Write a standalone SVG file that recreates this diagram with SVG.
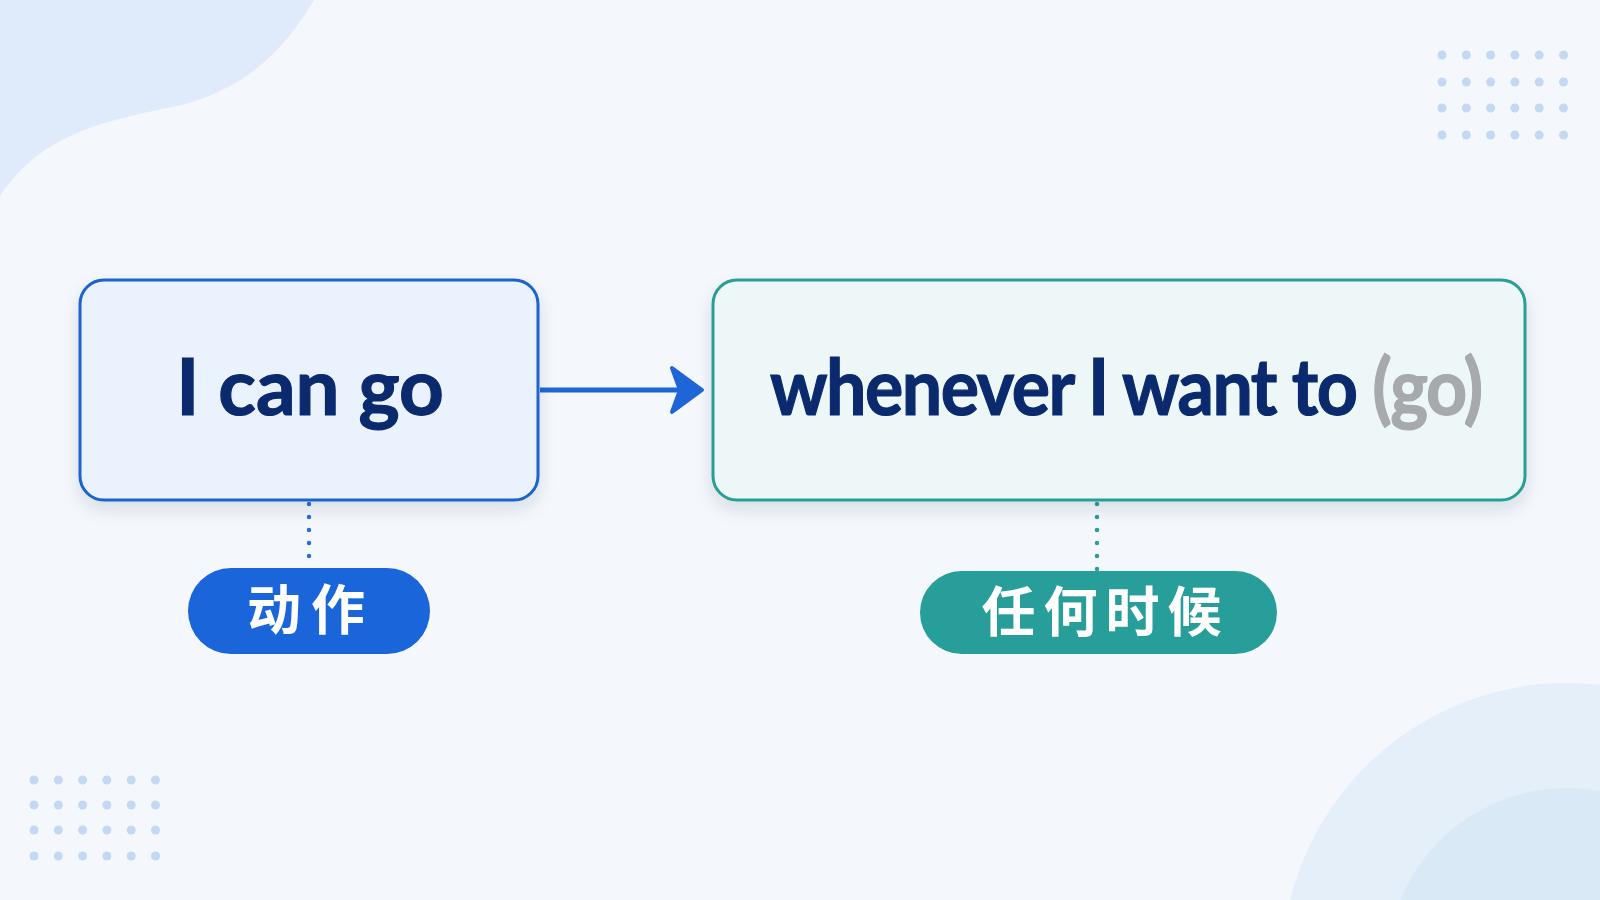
<svg xmlns="http://www.w3.org/2000/svg" width="1600" height="900" viewBox="0 0 1600 900">
<defs>
<style>
.en{font-family:Lato,"Liberation Sans",sans-serif;font-weight:700;font-size:78px;fill:#0b2a6e;stroke:#0b2a6e;stroke-width:1.2px;}
.gray{fill:#a6a9ae;stroke:#a6a9ae;}
.cn{font-family:"Noto Sans CJK SC",sans-serif;font-weight:700;font-size:54px;fill:#ffffff;}
.dot{fill:#c3d8f3;}
.tag-line{stroke-width:4.5;stroke-linecap:round;stroke-dasharray:0 13;fill:none;}
</style>
<filter id="sh" x="-10%" y="-10%" width="120%" height="135%">
<feDropShadow dx="0" dy="8" stdDeviation="8" flood-color="#1b2b4a" flood-opacity="0.13"/>
</filter>
<g id="dotgrid">
<circle class="dot" cx="0" cy="0" r="4.5"/><circle class="dot" cx="24.3" cy="0" r="4.5"/><circle class="dot" cx="48.6" cy="0" r="4.5"/><circle class="dot" cx="72.9" cy="0" r="4.5"/><circle class="dot" cx="97.2" cy="0" r="4.5"/><circle class="dot" cx="121.5" cy="0" r="4.5"/>
</g>
</defs>
<rect width="1600" height="900" fill="#f4f8fc"/>
<path d="M0,0 H314 C290,40 255,85 185,104 C115,120 45,128 0,196 Z" fill="#dfebfa"/>
<circle cx="1567" cy="968" r="285" fill="#e5eff9"/>
<circle cx="1567" cy="968" r="180" fill="#d9e9f6"/>
<g id="dots-tr">
<use href="#dotgrid" x="1442" y="55"/><use href="#dotgrid" x="1442" y="82"/><use href="#dotgrid" x="1442" y="108"/><use href="#dotgrid" x="1442" y="135"/>
</g>
<g id="dots-bl">
<use href="#dotgrid" x="34" y="780"/><use href="#dotgrid" x="34" y="805"/><use href="#dotgrid" x="34" y="830"/><use href="#dotgrid" x="34" y="856"/>
</g>
<g id="connectors">
<line x1="540" y1="390" x2="690" y2="390" stroke="#1e66d8" stroke-width="5"/>
<path d="M702,390 L672,368 L680,390 L672,412 Z" fill="#1e66d8" stroke="#1e66d8" stroke-width="4" stroke-linejoin="round"/>
<line class="tag-line" x1="309" y1="504" x2="309" y2="566" stroke="#2a6fd6"/>
<line class="tag-line" x1="1097" y1="504" x2="1097" y2="570" stroke="#2a9d96"/>
</g>
<g id="node-action">
<rect x="80" y="280" width="458" height="220" rx="24" fill="#eaf2fd" stroke="#1f63d0" stroke-width="3" filter="url(#sh)"/>
<text class="en" x="310" y="415" text-anchor="middle">I can go</text>
</g>
<g id="node-time">
<rect x="713" y="280" width="812" height="220" rx="24" fill="#eef7f8" stroke="#2a9d96" stroke-width="3" filter="url(#sh)"/>
<text class="en" x="1223.8" y="415" text-anchor="middle" letter-spacing="-1.7" transform="scale(0.92,1)">whenever I want to <tspan class="gray">(go)</tspan></text>
</g>
<g id="tag-action">
<rect x="188" y="568" width="242" height="86" rx="43" fill="#1a65d9"/>
<text class="cn" x="311" y="630" text-anchor="middle" letter-spacing="10">动作</text>
</g>
<g id="tag-time">
<rect x="920" y="571" width="357" height="83" rx="41.5" fill="#279e99"/>
<text class="cn" x="1105.5" y="632" text-anchor="middle" letter-spacing="8">任何时候</text>
</g>
</svg>
